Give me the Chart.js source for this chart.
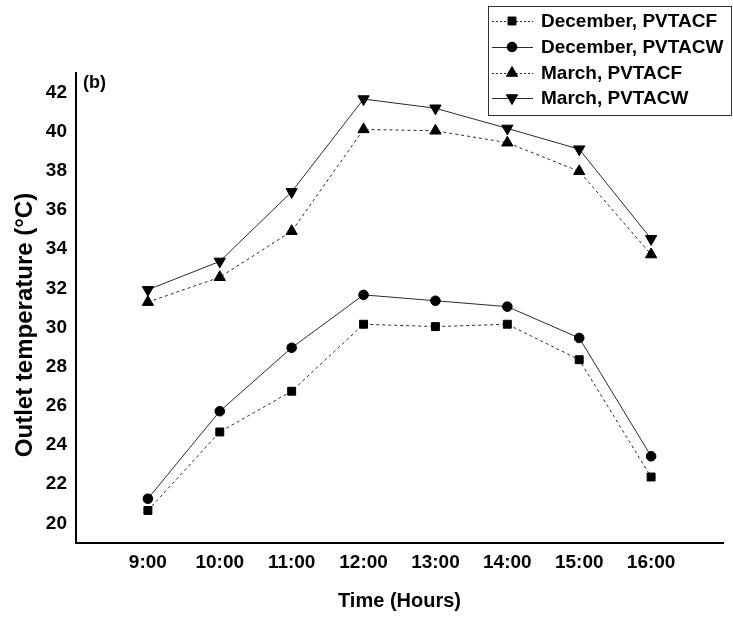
<!DOCTYPE html>
<html>
<head>
<meta charset="utf-8">
<script src="https://cdn.jsdelivr.net/npm/chart.js@4/dist/chart.umd.min.js"></script>
<style>
  html, body { margin: 0; padding: 0; background: #fff; }
  canvas { display: block; }
</style>
</head>
<body>
<canvas id="chart" width="733" height="618"></canvas>
<script>
const hours = [9, 10, 11, 12, 13, 14, 15, 16];
const hourLabels = ["9:00", "10:00", "11:00", "12:00", "13:00", "14:00", "15:00", "16:00"];
const tempTicks = [20, 22, 24, 26, 28, 30, 32, 34, 36, 38, 40, 42];

const decF = [20.66, 24.67, 26.75, 30.17, 30.05, 30.17, 28.36, 22.37];
const decW = [21.26, 25.73, 28.97, 31.67, 31.37, 31.07, 29.47, 23.43];
const marF = [31.30, 32.57, 34.92, 40.12, 40.05, 39.44, 37.98, 33.73];
const marW = [31.93, 33.38, 36.93, 41.67, 41.20, 40.17, 39.11, 34.53];

const seriesNames = ["December, PVTACF", "December, PVTACW", "March, PVTACF", "March, PVTACW"];

const FONT = "Arial, 'Liberation Sans', sans-serif";
const INK = "#000";
const LINE = "#2a2a2a";

function series(label, values, style, dashed, rotation, radius) {
  return {
    label,
    data: values.map((v, i) => ({ x: hours[i], y: v })),
    borderColor: LINE,
    borderWidth: 1,
    borderDash: dashed ? [3, 3] : [],
    pointStyle: style,
    pointRotation: rotation,
    pointRadius: radius,
    pointHoverRadius: radius,
    pointBackgroundColor: INK,
    pointBorderColor: INK,
    pointBorderWidth: 1,
    tension: 0,
    fill: false
  };
}

// extra text + boxed legend on top of the plot
const decorations = {
  id: "decorations",
  afterDraw(chart) {
    const ctx = chart.ctx;
    ctx.save();
    ctx.fillStyle = INK;

    // y axis title
    ctx.save();
    ctx.translate(25, 325);
    ctx.rotate(-Math.PI / 2);
    ctx.font = "bold 24px " + FONT;
    ctx.textAlign = "center";
    ctx.textBaseline = "middle";
    ctx.fillText("Outlet temperature (°C)", 0, 0);
    ctx.restore();

    // panel tag
    ctx.font = "bold 18px " + FONT;
    ctx.textAlign = "left";
    ctx.textBaseline = "middle";
    ctx.fillText("(b)", 83, 83);

    // legend
    const bx = 488, by = 6, bw = 243, bh = 109;
    ctx.fillStyle = "#fff";
    ctx.fillRect(bx, by, bw, bh);
    ctx.strokeStyle = "#333";
    ctx.lineWidth = 1;
    ctx.strokeRect(bx + 0.5, by + 0.5, bw, bh);

    const rowY = [21, 47, 73, 98];
    chart.data.datasets.forEach((ds, i) => {
      const y = rowY[i];
      ctx.save();
      ctx.strokeStyle = ds.borderColor;
      ctx.lineWidth = 1;
      ctx.setLineDash(ds.borderDash.length ? [2, 2] : []);
      ctx.beginPath();
      ctx.moveTo(492, y + 0.5);
      ctx.lineTo(533, y + 0.5);
      ctx.stroke();
      ctx.restore();

      ctx.fillStyle = INK;
      ctx.strokeStyle = INK;
      ctx.lineWidth = 1;
      Chart.helpers.drawPoint(ctx, {
        pointStyle: ds.pointStyle,
        rotation: ds.pointRotation,
        radius: ds.pointRadius,
        borderWidth: 1
      }, 512, y);

      ctx.font = "bold 19px " + FONT;
      ctx.textAlign = "left";
      ctx.textBaseline = "middle";
      ctx.fillText(ds.label, 541, y + 1);
    });
    ctx.restore();
  }
};

new Chart(document.getElementById("chart"), {
  type: "line",
  data: {
    datasets: [
      series(seriesNames[0], decF, "rect", true, 0, 5.6),
      series(seriesNames[1], decW, "circle", false, 0, 4.8),
      series(seriesNames[2], marF, "triangle", true, 0, 6.5),
      series(seriesNames[3], marW, "triangle", false, 180, 6.5)
    ]
  },
  options: {
    responsive: false,
    devicePixelRatio: 1,
    animation: false,
    layout: { padding: { top: 73, right: 10, left: 0, bottom: 0 } },
    plugins: {
      legend: { display: false },
      tooltip: { enabled: false }
    },
    scales: {
      x: {
        type: "linear",
        min: 8,
        max: 17,
        afterFit: s => { s.height = 75; },
        afterBuildTicks: s => { s.ticks = hours.map(v => ({ value: v })); },
        grid: { display: false, drawTicks: false },
        border: { display: true, color: INK, width: 2 },
        ticks: {
          padding: 8,
          color: INK,
          font: { family: FONT, size: 19, weight: "bold" },
          callback: v => hourLabels[hours.indexOf(v)]
        },
        title: {
          display: true,
          text: "Time (Hours)",
          color: INK,
          font: { family: FONT, size: 20, weight: "bold" },
          padding: { top: 0, bottom: 5 }
        }
      },
      y: {
        min: 19,
        max: 43,
        afterFit: s => { s.width = 76; },
        afterBuildTicks: s => { s.ticks = tempTicks.map(v => ({ value: v })); },
        grid: { display: false, drawTicks: false },
        border: { display: true, color: INK, width: 2 },
        ticks: {
          padding: 9,
          color: INK,
          font: { family: FONT, size: 19, weight: "bold" }
        }
      }
    }
  },
  plugins: [decorations]
});
</script>
</body>
</html>
